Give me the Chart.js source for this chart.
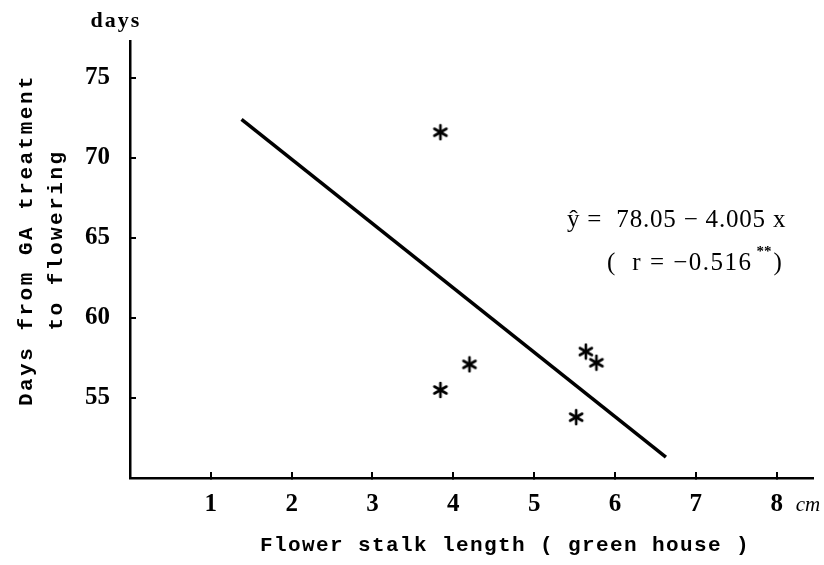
<!DOCTYPE html>
<html>
<head>
<meta charset="utf-8">
<script src="https://cdn.jsdelivr.net/npm/chart.js@4.4.1/dist/chart.umd.min.js"></script>
<style>
  html, body { margin: 0; padding: 0; background: #fff; }
  #chart { display: block; }
</style>
</head>
<body>
<canvas id="chart" width="824" height="565"></canvas>
<script>
// measured points (flower stalk length in cm, days to flowering)
const stalkLength = [3.84, 3.84, 4.2, 5.52, 5.64, 5.77];
const daysToFlower = [71.6, 55.5, 57.1, 53.8, 57.9, 57.2];
// regression line end points
const fitX = [1.38, 6.63];
const fitY = [72.4, 51.3];
const xTicks = [1, 2, 3, 4, 5, 6, 7, 8];
const yTicks = [55, 60, 65, 70, 75];

const points = stalkLength.map((x, i) => ({ x: x, y: daysToFlower[i] }));
const fitLine = fitX.map((x, i) => ({ x: x, y: fitY[i] }));

// six-armed asterisk marker
function makeStar() {
  const c = document.createElement("canvas");
  c.width = 18;
  c.height = 18;
  const g = c.getContext("2d");
  g.strokeStyle = "#000";
  g.lineWidth = 2.6;
  g.lineCap = "round";
  for (let k = 0; k < 3; k++) {
    const a = Math.PI / 2 + (k * Math.PI) / 3;
    const dx = Math.cos(a) * 7, dy = Math.sin(a) * 7;
    g.beginPath();
    g.moveTo(9 - dx, 9 - dy);
    g.lineTo(9 + dx, 9 + dy);
    g.stroke();
  }
  return c;
}
const star = makeStar();

const labelsPlugin = {
  id: "labels",
  afterDraw(chart) {
    const c = chart.ctx;
    const area = chart.chartArea;
    c.save();
    c.fillStyle = "#000";

    // unit above y axis
    c.font = "bold 22px 'Liberation Serif'";
    c.letterSpacing = "2px";
    c.textAlign = "center";
    c.textBaseline = "alphabetic";
    c.fillText("days", area.left - 14, 27);

    // y title, two lines
    c.save();
    c.translate(0, 240);
    c.rotate(-Math.PI / 2);
    c.font = "bold 21px 'Liberation Mono'";
    c.letterSpacing = "2.5px";
    c.textBaseline = "middle";
    c.fillText("Days from GA treatment", 0, 27);
    c.fillText("to flowering", 0, 57);
    c.restore();

    // x title
    c.font = "bold 21px 'Liberation Mono'";
    c.letterSpacing = "1.4px";
    c.textAlign = "center";
    c.textBaseline = "middle";
    c.fillText("Flower stalk length ( green house )", 505, 546);
    c.letterSpacing = "0px";

    // unit after the last x tick
    const x8 = chart.scales.x.getPixelForValue(8);
    c.font = "italic 21px 'Liberation Serif'";
    c.textAlign = "left";
    c.fillText("cm", x8 + 19, 505);

    // regression equation
    c.font = "25px 'Liberation Serif'";
    c.letterSpacing = "0.8px";
    c.textAlign = "left";
    c.textBaseline = "middle";
    c.fillText("ŷ =  78.05 − 4.005 x", 567, 220);
    let x = 607;
    const s1 = "(  r = −0.516";
    c.letterSpacing = "1.5px";
    c.fillText(s1, x, 263);
    x += c.measureText(s1).width + 4;
    c.letterSpacing = "0px";
    c.font = "bold 15px 'Liberation Serif'";
    c.fillText("**", x, 252);
    x += c.measureText("**").width + 2;
    c.font = "25px 'Liberation Serif'";
    c.fillText(")", x, 263);
    c.restore();
  },
};

const tickFont = { family: "'Liberation Serif'", size: 25, weight: "bold" };

new Chart(document.getElementById("chart").getContext("2d"), {
  type: "scatter",
  data: {
    datasets: [
      {
        data: points,
        pointStyle: star,
        pointRadius: 8,
      },
      {
        data: fitLine,
        showLine: true,
        borderColor: "#000",
        borderWidth: 3.5,
        pointRadius: 0,
      },
    ],
  },
  options: {
    responsive: false,
    animation: false,
    layout: { padding: { left: 0, right: 11, top: 33, bottom: 0 } },
    plugins: { legend: { display: false }, tooltip: { enabled: false } },
    scales: {
      x: {
        type: "linear",
        min: 0,
        max: 8.45,
        afterBuildTicks: (s) => { s.ticks = xTicks.map((v) => ({ value: v })); },
        afterFit: (s) => { s.height = 87; },
        grid: { drawOnChartArea: false, tickLength: -6, color: "#000", lineWidth: 2 },
        border: { color: "#000", width: 2.5 },
        ticks: { color: "#000", font: tickFont, padding: 18, maxRotation: 0 },
      },
      y: {
        type: "linear",
        min: 50,
        max: 77.3,
        afterBuildTicks: (s) => { s.ticks = yTicks.map((v) => ({ value: v })); },
        afterFit: (s) => { s.width = 130; },
        grid: { drawOnChartArea: false, tickLength: -6, color: "#000", lineWidth: 2 },
        border: { color: "#000", width: 2.5 },
        ticks: { color: "#000", font: tickFont, padding: 26 },
      },
    },
  },
  plugins: [labelsPlugin],
});
</script>
</body>
</html>
